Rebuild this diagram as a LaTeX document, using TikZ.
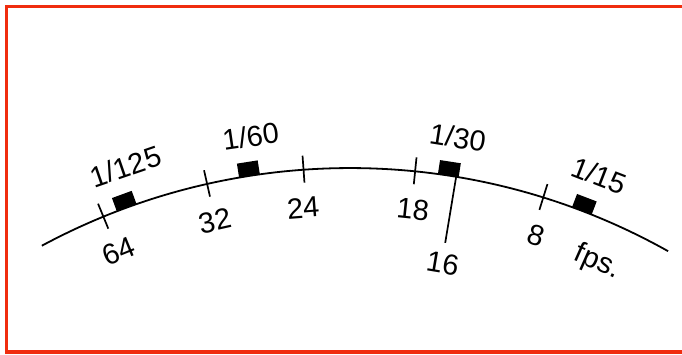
\documentclass[tikz,border=0pt]{standalone}
\usepackage{fontspec}
\setmainfont{Liberation Sans}
\usetikzlibrary{calc}
\definecolor{framered}{RGB}{240,45,15}
\begin{document}
\begin{tikzpicture}[x=1pt,y=1pt,
  lbl/.style={font=\fontsize{29}{32}\selectfont, inner sep=0pt},
  tickmark/.style={line width=1.7pt},
  arcline/.style={line width=1.8pt},
  shutter/.style={fill=black, minimum width=21pt, minimum height=14pt, inner sep=0pt},
  frame/.style={draw=framered, line width=3.4pt}]
\useasboundingbox (0,0) rectangle (682,354);
\clip (0,0) rectangle (682,354);
\coordinate (C) at (350,-464);
% frame (open on the right)
\draw[frame] (690,347.5) -- (6.5,347.5) -- (6.5,2) -- (690,2);
% scale arc
\coordinate (arcstart) at ($(C)+(118.3:650)$);
\draw[arcline] (arcstart) arc[start angle=118.3, end angle=60.7, radius=650];
% tick marks
\foreach \n/\a in {64/-22.3, 32/-12.7, 24/-4.1, 18/5.75, 8/17.3}{
  \coordinate (t\n i) at ($(C)+({90-\a}:637)$);
  \coordinate (t\n o) at ($(C)+({90-\a}:664)$);
  \draw[tickmark] (t\n i) -- (t\n o);
}
% fps labels below the arc
\foreach \n/\a in {64/-22.2, 32/-12.7, 24/-4.4, 18/5.9, 8/17.7}{
  \node[lbl, rotate={-\a}] (l\n) at ($(C)+({90-\a}:612)$) {\n};
}
% shutter squares
\foreach \n/\a in {125/-20.1, 60/-8.9, 30/8.7, 15/20.9}{
  \node[shutter, rotate={-\a}] (s\n) at ($(C)+({90-\a}:657)$) {};
}
% shutter labels above the arc
\foreach \n/\a in {125/-19.0, 60/-8.3, 30/9.0, 15/21.2}{
  \node[lbl, rotate={-\a}] (u\n) at ($(C)+({90-\a}:689)$) {1/\n};
}
% 16 pointer
\coordinate (p30) at ($(C)+(80.6:652)$);
\coordinate (p16) at ($(C)+(80.6:583)$);
\draw[tickmark] (p30) -- (p16);
\node[lbl, rotate=-9.5] (l16) at ($(C)+(80.5:562)$) {16};
% fps.
\node[lbl, rotate=-24] (fps) at ($(C)+(66:608)$) {fps.};
\end{tikzpicture}
\end{document}
